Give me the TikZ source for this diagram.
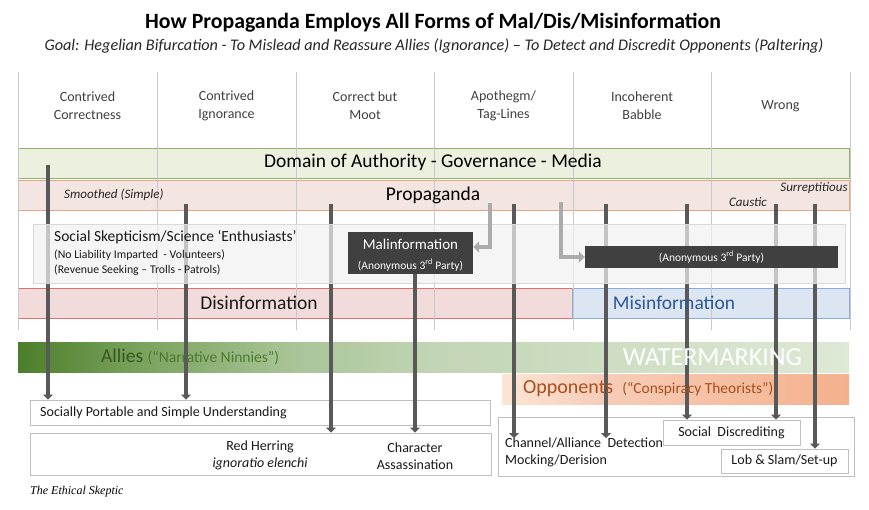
\documentclass[tikz,border=0pt]{standalone}
\usepackage{fontspec}
\setmainfont{Carlito}
\newfontfamily\sigfont{Liberation Serif}
\usetikzlibrary{arrows.meta,calc}
\definecolor{domfill}{HTML}{EBF1DE}
\definecolor{domdraw}{HTML}{8DB36A}
\definecolor{propfill}{HTML}{F3E5E1}
\definecolor{propdraw}{HTML}{E5A582}
\definecolor{disfill}{HTML}{F2DCDB}
\definecolor{disdraw}{HTML}{E06F6F}
\definecolor{misfill}{HTML}{DCE6F2}
\definecolor{misdraw}{HTML}{8EA9DB}
\definecolor{mistext}{HTML}{2F5597}
\definecolor{socfill}{HTML}{F2F2F2}
\definecolor{socdraw}{HTML}{D9D9D9}
\definecolor{darkbox}{HTML}{404040}
\definecolor{arrowgray}{HTML}{595959}
\definecolor{lightarr}{HTML}{ABABAB}
\definecolor{colline}{HTML}{C8C8C8}
\definecolor{boxdraw}{HTML}{C0C0C0}
\definecolor{allyA}{HTML}{4B7E2A}
\definecolor{allyB}{HTML}{76A058}
\definecolor{allyC}{HTML}{A8C497}
\definecolor{allyD}{HTML}{C2D5B5}
\definecolor{allyE}{HTML}{DEE9D6}
\definecolor{allytext}{HTML}{375623}
\definecolor{allytext2}{HTML}{4E7A30}
\definecolor{oppA}{HTML}{FCE5D6}
\definecolor{oppB}{HTML}{F7CDB9}
\definecolor{oppC}{HTML}{F4B18C}
\definecolor{opptext}{HTML}{A84F1C}
\definecolor{hdrtext}{HTML}{404040}
\pgfdeclarehorizontalshading{allyshade}{100bp}{color(0bp)=(allyA); color(25bp)=(allyA); color(31.7bp)=(allyB); color(41.4bp)=(allyC); color(50bp)=(allyD); color(75bp)=(allyE); color(100bp)=(allyE)}
\pgfdeclarehorizontalshading{oppshade}{100bp}{color(0bp)=(oppA); color(25bp)=(oppA); color(39bp)=(oppB); color(75bp)=(oppC); color(100bp)=(oppC)}
\tikzset{
  bar/.style={inner sep=0pt, line width=0.8pt},
  plainbox/.style={draw=boxdraw, line width=0.8pt, inner sep=0pt},
  hdr/.style={align=center, text=hdrtext, font=\fontsize{14}{18}\selectfont},
  darr/.style={draw=arrowgray, line width=4pt, -{Triangle[length=5pt,width=10pt]}},
  garr/.style={draw=lightarr, line width=4pt, -{Triangle[length=6pt,width=11pt]}},
  smallit/.style={font=\itshape\fontsize{13}{15}\selectfont, text=black!85},
  boxtext/.style={font=\fontsize{14}{17}\selectfont, text=black!90},
  bartext/.style={font=\fontsize{19.5}{22}\selectfont},
}
\begin{document}
\begin{tikzpicture}[x=1pt,y=-1pt, every node/.style={inner sep=0pt}]
\useasboundingbox[fill=white] (0,0) rectangle (869,510);

% title
\node[font=\bfseries\fontsize{21.8}{25}\selectfont] (title) at (433,23) {How Propaganda Employs All Forms of Mal/Dis/Misinformation};
\node[font=\itshape\fontsize{16.2}{18}\selectfont, text=black!85] (subtitle) at (434,46) {Goal: Hegelian Bifurcation - To Mislead and Reassure Allies (Ignorance) -- To Detect and Discredit Opponents (Paltering)};

% column headers
\node[hdr] (h1) at (87.5,106) {Contrived\\Correctness};
\node[hdr] (h2) at (226.5,106) {Contrived\\Ignorance};
\node[hdr] (h3) at (365,106) {Correct but\\Moot};
\node[hdr] (h4) at (503.5,106) {Apothegm/\\Tag-Lines};
\node[hdr] (h5) at (642,106) {Incoherent\\Babble};
\node[hdr] (h6) at (780.5,106) {Wrong};

% bars
\node[bar, fill=domfill, draw=domdraw, minimum width=831pt, minimum height=30pt] (domain) at (433.5,163) {};
\node[bar, fill=propfill, draw=propdraw, minimum width=831pt, minimum height=30pt] (prop) at (433.5,195) {};
\node[bar, fill=disfill, draw=disdraw, minimum width=554pt, minimum height=30pt] (dis) at (295,303) {};
\node[bar, fill=misfill, draw=misdraw, minimum width=277pt, minimum height=30pt] (mis) at (710.5,303) {};
\node[inner sep=0pt, minimum width=831pt, minimum height=30pt, shade, shading=allyshade] (allies) at (433.5,357.5) {};
\node[inner sep=0pt, minimum width=347pt, minimum height=30pt, shade, shading=oppshade] (opp) at (675.5,389.5) {};

% column lines
\foreach \cx in {18,157,296,434,573,711,850}
  \draw[colline, line width=0.6pt] (\cx,72) -- (\cx,330);

% bottom boxes
\node[plainbox, minimum width=460pt, minimum height=25pt] (spsu) at (260,412.5) {};
\node[plainbox, minimum width=461pt, minimum height=42pt] (redh) at (260.5,454) {};
\node[plainbox, minimum width=356pt, minimum height=59pt] (rbox) at (676,446.5) {};
\node[plainbox, fill=white, minimum width=137pt, minimum height=25pt] (sdisc) at (731.5,432.5) {};
\node[plainbox, fill=white, minimum width=127pt, minimum height=24pt] (lob) at (784.5,461) {};

% bottom texts
\node[boxtext, anchor=west] (spsutext) at (40,412.5) {Socially Portable and Simple Understanding};
\node[boxtext, align=center] (redtext) at (260,455) {Red Herring\\\textit{ignoratio elenchi}};
\node[boxtext, align=center] (chartext) at (415,456) {Character\\Assassination};
\node[boxtext, align=left, anchor=north west] (chan) at (505,438) {Channel/Alliance\ \ Detection\\Mocking/Derision};
\node[boxtext] (sdtext) at (sdisc.center) {Social\ \ Discrediting};
\node[boxtext] (lobtext) at (lob.center) {Lob \& Slam/Set-up};

% arrow starts
\coordinate (s1) at (48,165);
\coordinate (s2) at (186,204);
\coordinate (s3) at (331,204);
\coordinate (s5) at (514,204);
\coordinate (s6) at (606,204);
\coordinate (s7) at (687,204);
\coordinate (s8) at (776,204);
\coordinate (s9) at (815,204);

\draw[darr] (s1) -- (s1 |- spsu.north);
\draw[darr] (s2) -- (s2 |- spsu.north);
\draw[darr] (s3) -- (s3 |- redh.north);
\draw[darr] (s5) -- (s5 |- chan.north);
\draw[darr] (s6) -- (s6 |- chan.north);
\draw[darr] (s7) -- (s7 |- sdisc.north);
\draw[darr] (s8) -- (s8 |- sdisc.north);
\draw[darr] (s9) -- (s9 |- lob.north);

% social skepticism box (translucent, over arrows)
\node[draw=socdraw, fill=socfill, fill opacity=0.7, line width=0.8pt, minimum width=812pt, minimum height=59pt] (soc) at (439,253.5) {};
\node[anchor=west, text=black!90, font=\fontsize{15.5}{17}\selectfont] (soct1) at (54,237) {Social Skepticism/Science `Enthusiasts'};
\node[anchor=west, text=black!90, font=\fontsize{11.8}{13}\selectfont] (soct2) at (54,255) {(No Liability Imparted\ \ - Volunteers)};
\node[anchor=west, text=black!90, font=\fontsize{11.8}{13}\selectfont] (soct3) at (54,270) {(Revenue Seeking -- Trolls - Patrols)};

% dark boxes
\node[fill=darkbox, minimum width=125pt, minimum height=42pt] (malin) at (410.5,253) {};
\node[text=white, font=\fontsize{15}{17}\selectfont] (malt1) at (410.5,244) {Malinformation};
\node[text=white, font=\fontsize{11.5}{13}\selectfont] (malt2) at (410.5,265) {(Anonymous 3\textsuperscript{rd} Party)};
\node[fill=darkbox, minimum width=253pt, minimum height=22pt, text=white, font=\fontsize{11.5}{13}\selectfont] (anon) at (711.5,257) {(Anonymous 3\textsuperscript{rd} Party)};

\coordinate (s4) at ($(malin.south)+(4.5,0)$);
\draw[darr] (s4) -- (s4 |- redh.north);

% gray connectors
\coordinate (g1) at (490,203);
\coordinate (g2) at (561,202);
\draw[garr] (g1) |- ($(malin.east)+(0,-6)$);
\draw[garr] (g2) |- (anon.west);

% bar texts
\node[bartext] (domtext) at (433,162.5) {Domain of Authority - Governance - Media};
\node[bartext] (proptext) at (433,195) {Propaganda};
\node[smallit, anchor=west] (smooth) at (64,195) {Smoothed (Simple)};
\node[smallit] (caustic) at (748,202) {Caustic};
\node[smallit] (surr) at (814,188) {Surreptitious};
\node[bartext, text=black!90] (distext) at (259,302.5) {Disinformation};
\node[bartext, text=mistext] (mistext) at (674,302.5) {Misinformation};
\node[anchor=west, text=allytext, font=\fontsize{19.5}{22}\selectfont] (allytext) at (101,357) {Allies \textcolor{allytext2}{\fontsize{15.5}{17}\selectfont(``Narrative Ninnies'')}};
\node[text=white, font=\fontsize{26}{28}\selectfont] (water) at (712.5,357) {WATERMARKING};
\node[anchor=west, text=opptext, font=\fontsize{20}{22}\selectfont] (opptext) at (523,389) {Opponents\ \ {\fontsize{15.4}{17}\selectfont(``Conspiracy Theorists'')}};

% signature
\node[anchor=west, font=\sigfont\itshape\fontsize{12}{14}\selectfont] (sig) at (30,492) {The Ethical Skeptic};
\end{tikzpicture}
\end{document}
